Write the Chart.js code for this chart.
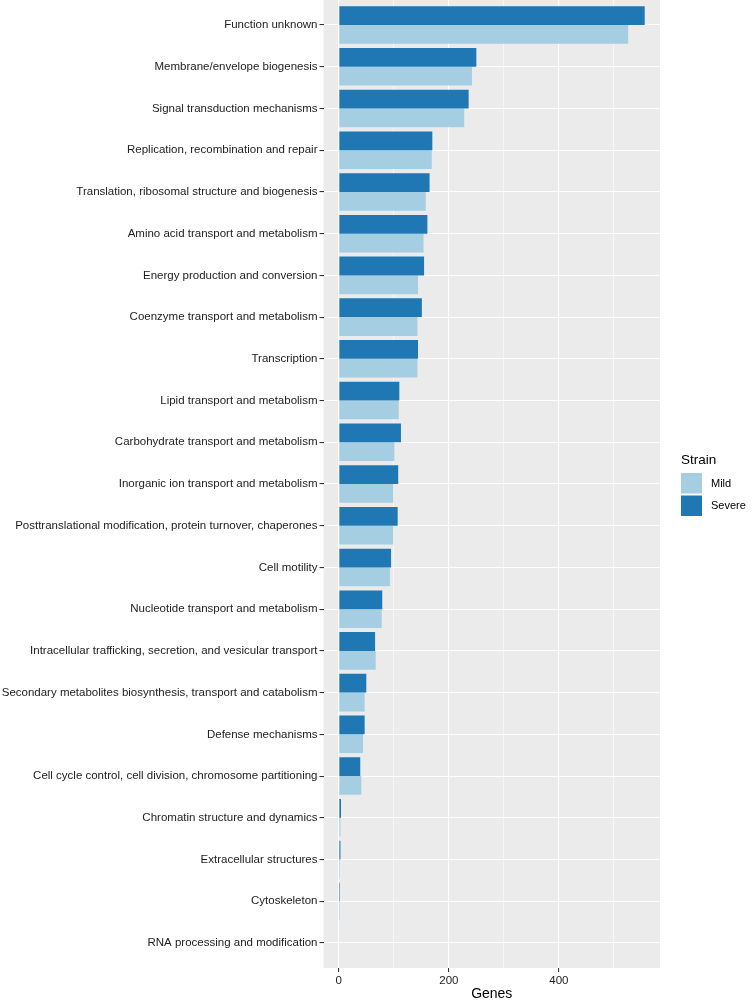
<!DOCTYPE html>
<html>
<head>
<meta charset="utf-8">
<script src="https://cdn.jsdelivr.net/npm/chart.js@4"></script>
<style>
  body { margin: 0; background: #fff; }
  #wrap { width: 754px; height: 1003px; position: relative; }
</style>
</head>
<body>
<div id="wrap"><canvas id="cog"></canvas></div>
<script>
const categories = [
  'Function unknown',
  'Membrane/envelope biogenesis',
  'Signal transduction mechanisms',
  'Replication, recombination and repair',
  'Translation, ribosomal structure and biogenesis',
  'Amino acid transport and metabolism',
  'Energy production and conversion',
  'Coenzyme transport and metabolism',
  'Transcription',
  'Lipid transport and metabolism',
  'Carbohydrate transport and metabolism',
  'Inorganic ion transport and metabolism',
  'Posttranslational modification, protein turnover, chaperones',
  'Cell motility',
  'Nucleotide transport and metabolism',
  'Intracellular trafficking, secretion, and vesicular transport',
  'Secondary metabolites biosynthesis, transport and catabolism',
  'Defense mechanisms',
  'Cell cycle control, cell division, chromosome partitioning',
  'Chromatin structure and dynamics',
  'Extracellular structures',
  'Cytoskeleton',
  'RNA processing and modification',
];
const severe = [556, 250, 236, 170, 165, 161, 155, 151, 144, 110, 113, 108, 107, 95, 79, 66, 50, 47, 39, 4, 3, 2, 1];
const mild = [526, 242, 228, 169, 158, 154, 144, 143, 143, 109, 101, 99, 99, 93, 78, 67, 47, 44, 41, 3, 2, 2, 0];
const tickLabels = [0, 200, 400];

const colSevere = '#1F78B4';
const colMild = '#A6CEE3';
const font = "'Liberation Sans', Arial, sans-serif";
const textCol = '#222222';

// ggplot-ish 5% expansion on the value axis
const maxGenes = Math.max(...severe, ...mild);
const pad = maxGenes * 0.05;

const panelBg = {
  id: 'panelBg',
  beforeDraw(chart) {
    const { ctx, chartArea: a } = chart;
    ctx.save();
    ctx.fillStyle = '#EBEBEB';
    ctx.fillRect(a.left, a.top, a.right - a.left, a.bottom - a.top);
    ctx.restore();
  },
};

// ggplot pads a discrete axis by 0.6 of a category, chart.js by 0.5
const discretePad = {
  id: 'discretePad',
  afterLayout(chart) {
    const s = chart.scales.y;
    s._startValue = -0.6;
    s._valueRange = categories.length + 0.2;
  },
};

// legend drawn by hand, ggplot style (Mild first)
const strainLegend = {
  id: 'strainLegend',
  afterDraw(chart) {
    const { ctx } = chart;
    const x = 681, y = 473;
    ctx.save();
    ctx.fillStyle = '#000';
    ctx.font = '13.5px ' + font;
    ctx.textBaseline = 'alphabetic';
    ctx.fillText('Strain', x, 464);
    const items = [['Mild', colMild], ['Severe', colSevere]];
    items.forEach(([name, c], i) => {
      const by = y + i * 22.5;
      ctx.fillStyle = c;
      ctx.fillRect(x, by, 21, 20.5);
      ctx.fillStyle = '#000';
      ctx.font = '11px ' + font;
      ctx.textBaseline = 'middle';
      ctx.fillText(name, 711, by + 10.5);
    });
    ctx.restore();
  },
};

new Chart(document.getElementById('cog'), {
  type: 'bar',
  data: {
    labels: categories,
    datasets: [
      { label: 'Severe', data: severe, backgroundColor: colSevere, borderWidth: 0 },
      { label: 'Mild', data: mild, backgroundColor: colMild, borderWidth: 0 },
    ],
  },
  options: {
    indexAxis: 'y',
    responsive: true,
    maintainAspectRatio: false,
    animation: false,
    layout: { padding: { left: 0, top: 0, right: 94, bottom: 0 } },
    datasets: { bar: { categoryPercentage: 0.9, barPercentage: 1.0 } },
    plugins: {
      legend: { display: false },
      tooltip: { enabled: false },
    },
    scales: {
      x: {
        type: 'linear',
        min: -pad,
        max: maxGenes + pad,
        afterFit(s) { s.height = 35; s.paddingLeft = 0; s.paddingRight = 0; },
        border: { display: false },
        grid: {
          color: '#FFFFFF',
          lineWidth: (c) => (c.tick && c.tick.value % 200 === 0 ? 1.1 : 0.55),
          tickColor: (c) => (c.tick && c.tick.value % 200 === 0 ? '#333333' : 'rgba(0,0,0,0)'),
          tickLength: 4,
        },
        ticks: {
          stepSize: 100,
          includeBounds: false,
          autoSkip: false,
          maxRotation: 0,
          padding: 2,
          color: textCol,
          font: { family: font, size: 11.5 },
          callback: (v) => (tickLabels.includes(v) ? String(v) : ''),
        },
        title: {
          display: true,
          text: 'Genes',
          color: '#000',
          font: { family: font, size: 14 },
          padding: { top: 0, bottom: 0 },
        },
      },
      y: {
        afterFit(s) { s.width = 323.5; s.paddingTop = 0; s.paddingBottom = 0; },
        border: { display: false },
        grid: {
          offset: false,
          color: '#FFFFFF',
          lineWidth: 1.1,
          tickColor: '#333333',
          tickLength: 4,
        },
        ticks: {
          autoSkip: false,
          padding: 2,
          color: textCol,
          font: { family: font, size: 11.5 },
        },
      },
    },
  },
  plugins: [discretePad, panelBg, strainLegend],
});
</script>
</body>
</html>
